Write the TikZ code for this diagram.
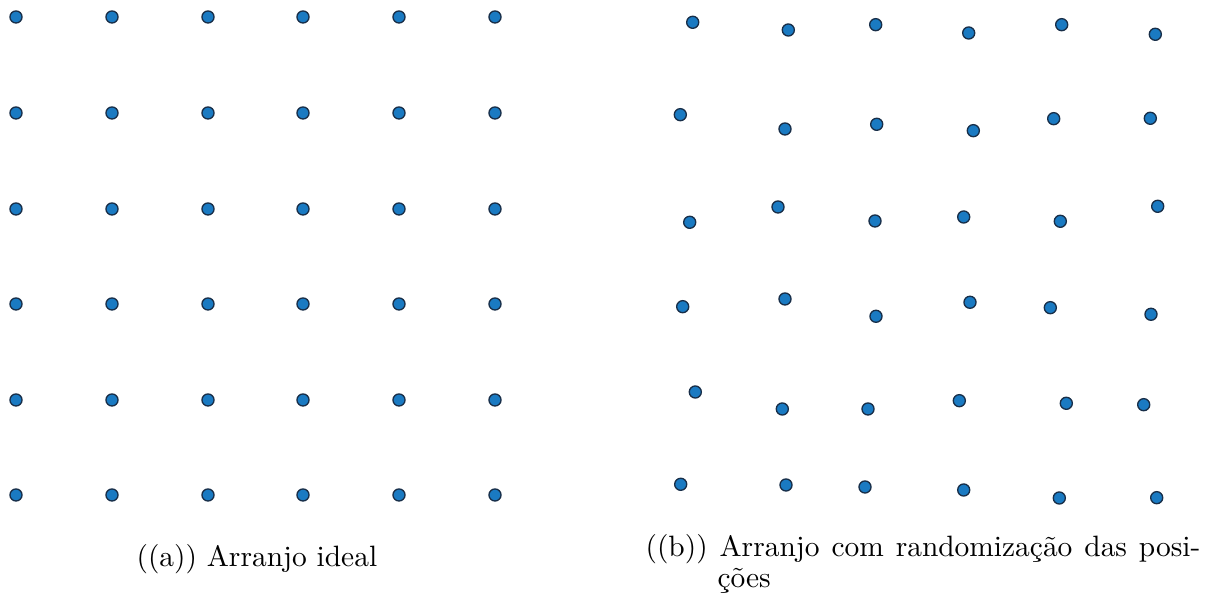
\documentclass[tikz,border=0pt]{standalone}
\usepackage{fontspec}
\definecolor{dotfill}{RGB}{26,122,194}
\definecolor{dotedge}{RGB}{24,46,72}
\tikzset{
  dot/.style={circle, fill=dotfill, draw=dotedge, line width=0.45pt, minimum size=4.1pt, inner sep=0pt},
  captext/.style={anchor=base west, inner sep=0pt, font=\fontsize{10}{12}\selectfont}
}
\begin{document}
\begin{tikzpicture}[x=0.3397pt, y=-0.3397pt]
\useasboundingbox (0,0) rectangle (1210,605);
% (a) ideal grid
\foreach \i/\x in {1/16,2/112,3/208,4/303,5/399,6/495}{
  \foreach \j/\y in {1/17,2/113,3/209,4/304,5/400,6/495}{
    \node[dot] (a-\j-\i) at (\x,\y) {};
  }
}
% (b) randomized grid
\foreach \n/\x/\y in {
  1/692.7/22.3, 2/788.3/30, 3/875.7/24.7, 4/968.7/33, 5/1061.7/24.7, 6/1155.3/34.3,
  7/680.3/114.7, 8/785/129, 9/876.7/124.3, 10/973.3/130.7, 11/1053.7/118.7, 12/1150.3/118.3,
  13/689.7/222.3, 14/778/207, 15/875/221, 16/963.7/217, 17/1060.3/221.3, 18/1157.7/206.3,
  19/682.7/306.7, 20/785/299, 21/876/316.3, 22/970/302.3, 23/1050.3/307.7, 24/1151/314.3,
  25/695.3/392, 26/782.3/409, 27/868/409, 28/959.3/400.7, 29/1066.3/403.3, 30/1143.7/404.7,
  31/680.7/484.3, 32/786/485, 33/865/487, 34/963.7/490, 35/1059.3/498, 36/1156.7/497.7}{
  \node[dot] (b-\n) at (\x,\y) {};
}
% captions
\node[captext] (capa) at (136,567) {((a)) Arranjo ideal};
\node[captext] (capb1) at (645,557) {\hbox to 188.5pt{((b)) Arranjo com randomização das posi-}};
\node[captext] (capb2) at (645,588) {\phantom{((b))\ }ções};
\end{tikzpicture}
\end{document}
